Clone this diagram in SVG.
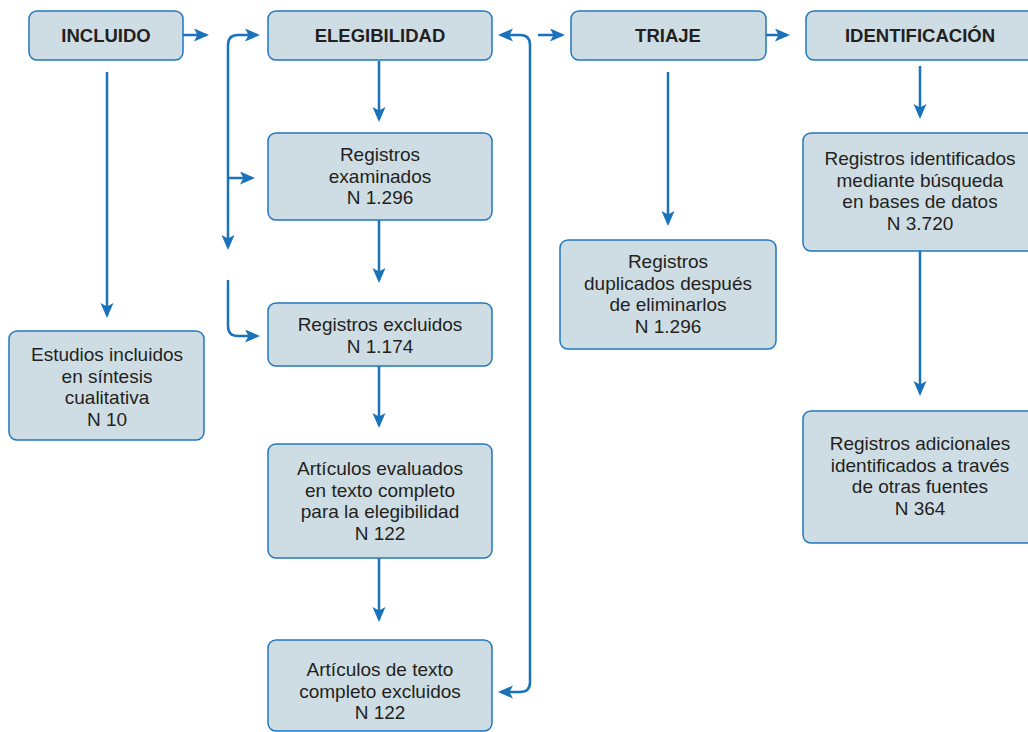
<svg xmlns="http://www.w3.org/2000/svg" width="1028" height="732" viewBox="0 0 1028 732">
<style>
.box{fill:#cedde4;stroke:#1f77c0;stroke-width:1.5}
.hd{font-family:"Liberation Sans",Arial,sans-serif;font-weight:bold;font-size:18.5px;fill:#231f20;text-anchor:middle}
.tx{font-family:"Liberation Sans",Arial,sans-serif;font-size:19px;fill:#231f20;text-anchor:middle}
.ln{fill:none;stroke:#1a73ba;stroke-width:2.5}
.a{marker-end:url(#ah)}
.b{marker-start:url(#ah);marker-end:url(#ah)}
</style>
<defs>
<marker id="ah" markerUnits="userSpaceOnUse" markerWidth="16" markerHeight="14" refX="12" refY="6.5" orient="auto-start-reverse">
<path d="M0,0 L15,6.5 L0,13 L3.5,6.5 z" fill="#1a73ba"/>
</marker>
</defs>
<rect width="1028" height="732" fill="#ffffff"/>
<g id="connectors">
<path class="ln a" d="M183,35 L206,35"/>
<path class="ln a" d="M538,35 L562,35"/>
<path class="ln a" d="M766,35 L787,35"/>
<path class="ln b" d="M228,247 L228,45 Q228,35 238,35 L257,35"/>
<path class="ln a" d="M228,178 L252,178"/>
<path class="ln a" d="M228,280 L228,326 Q228,336 238,336 L257,336"/>
<path class="ln b" d="M501,35 L520,35 Q530,35 530,45 L530,682 Q530,692 520,692 L501,692"/>
<path class="ln a" d="M107,72 L107,315"/>
<path class="ln a" d="M379,61 L379,119"/>
<path class="ln a" d="M379,220 L379,280"/>
<path class="ln a" d="M379,366 L379,425"/>
<path class="ln a" d="M379,558 L379,619"/>
<path class="ln a" d="M668,72 L668,223"/>
<path class="ln a" d="M920,66 L920,116"/>
<path class="ln a" d="M920,251 L920,393"/>
</g>
<g id="incluido"><rect class="box" x="29" y="11" width="154" height="49" rx="8"/><text class="hd" x="106" y="42">INCLUIDO</text></g>
<g id="elegibilidad"><rect class="box" x="268" y="11" width="224" height="49" rx="8"/><text class="hd" x="380" y="42">ELEGIBILIDAD</text></g>
<g id="triaje"><rect class="box" x="571" y="11" width="195" height="49" rx="8"/><text class="hd" x="668" y="42">TRIAJE</text></g>
<g id="identificacion"><rect class="box" x="806" y="11" width="240" height="49" rx="8"/><text class="hd" x="920" y="42">IDENTIFICACIÓN</text></g>
<g id="examinados"><rect class="box" x="268" y="133" width="224" height="87" rx="8"/><text class="tx" x="380" y="161">Registros</text><text class="tx" x="380" y="182.5">examinados</text><text class="tx" x="380" y="204">N 1.296</text></g>
<g id="excluidos"><rect class="box" x="268" y="303" width="224" height="63" rx="8"/><text class="tx" x="380" y="331">Registros excluidos</text><text class="tx" x="380" y="352.5">N 1.174</text></g>
<g id="evaluados"><rect class="box" x="268" y="444" width="224" height="114" rx="8"/><text class="tx" x="380" y="475">Artículos evaluados</text><text class="tx" x="380" y="496.5">en texto completo</text><text class="tx" x="380" y="518">para la elegibilidad</text><text class="tx" x="380" y="539.5">N 122</text></g>
<g id="texto-excluidos"><rect class="box" x="268" y="640" width="224" height="91" rx="8"/><text class="tx" x="380" y="676">Artículos de texto</text><text class="tx" x="380" y="697.5">completo excluidos</text><text class="tx" x="380" y="719">N 122</text></g>
<g id="estudios"><rect class="box" x="9" y="331" width="195" height="109" rx="8"/><text class="tx" x="107" y="361">Estudios incluidos</text><text class="tx" x="107" y="382.5">en síntesis</text><text class="tx" x="107" y="404">cualitativa</text><text class="tx" x="107" y="425.5">N 10</text></g>
<g id="duplicados"><rect class="box" x="560" y="240" width="216" height="109" rx="8"/><text class="tx" x="668" y="268">Registros</text><text class="tx" x="668" y="289.5">duplicados después</text><text class="tx" x="668" y="311">de eliminarlos</text><text class="tx" x="668" y="332.5">N 1.296</text></g>
<g id="identificados"><rect class="box" x="803" y="133" width="234" height="118" rx="8"/><text class="tx" x="920" y="165">Registros identificados</text><text class="tx" x="920" y="186.5">mediante búsqueda</text><text class="tx" x="920" y="208">en bases de datos</text><text class="tx" x="920" y="229.5">N 3.720</text></g>
<g id="adicionales"><rect class="box" x="803" y="411" width="234" height="132" rx="8"/><text class="tx" x="920" y="450">Registros adicionales</text><text class="tx" x="920" y="471.5">identificados a través</text><text class="tx" x="920" y="493">de otras fuentes</text><text class="tx" x="920" y="514.5">N 364</text></g>
</svg>
